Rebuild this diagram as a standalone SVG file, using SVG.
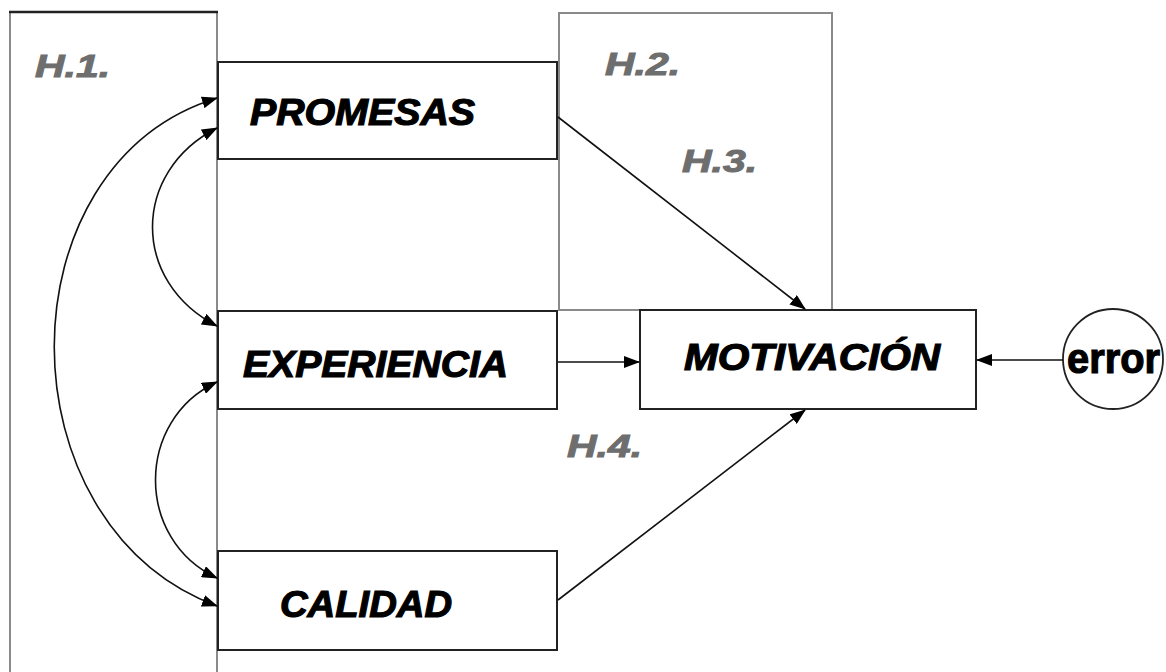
<svg xmlns="http://www.w3.org/2000/svg" width="1166" height="672" viewBox="0 0 1166 672">
<defs>
<marker id="ah" viewBox="0 0 16 12" refX="15" refY="6" markerWidth="16" markerHeight="12" markerUnits="userSpaceOnUse" orient="auto-start-reverse">
<path d="M0,0 L16,6 L0,12 Z" fill="#000"/>
</marker>
<style>
.frame{fill:none;stroke:#8a8a8a;stroke-width:2}
.box{fill:#fff;stroke:#222;stroke-width:2}
.lbl{font-family:"Liberation Sans",Arial,sans-serif;font-weight:bold;font-style:italic;fill:#000;stroke:#000;stroke-width:1.2;font-size:37px}
.hyp{font-family:"Liberation Sans",Arial,sans-serif;font-weight:bold;font-style:italic;fill:#6e6e6e;stroke:#6e6e6e;stroke-width:1;font-size:31px}
.conn{fill:none;stroke:#111;stroke-width:1.6;marker-end:url(#ah)}
.dbl{marker-start:url(#ah)}
</style>
</defs>
<rect width="1166" height="672" fill="#fff"/>
<g id="h1">
<rect class="frame" x="10" y="12" width="207" height="672"/>
<line x1="9" y1="12" x2="218" y2="12" stroke="#222" stroke-width="2.5"/>
<text class="hyp" x="35" y="77" textLength="75" lengthAdjust="spacingAndGlyphs">H.1.</text>
</g>
<g id="h2">
<rect class="frame" x="559" y="13" width="273" height="297"/>
<text class="hyp" x="605" y="75" textLength="75" lengthAdjust="spacingAndGlyphs">H.2.</text>
</g>
<g id="h3"><text class="hyp" x="682" y="172" textLength="75" lengthAdjust="spacingAndGlyphs">H.3.</text></g>
<g id="h4"><text class="hyp" x="567" y="457" textLength="75" lengthAdjust="spacingAndGlyphs">H.4.</text></g>
<g id="promesas">
<rect class="box" x="218" y="62" width="339" height="97"/>
<text class="lbl" x="250" y="125" textLength="225" lengthAdjust="spacingAndGlyphs">PROMESAS</text>
</g>
<g id="experiencia">
<rect class="box" x="218" y="311" width="339" height="98"/>
<text class="lbl" x="243" y="377" textLength="265" lengthAdjust="spacingAndGlyphs">EXPERIENCIA</text>
</g>
<g id="calidad">
<rect class="box" x="218" y="551" width="339" height="99"/>
<text class="lbl" x="280" y="617" textLength="172" lengthAdjust="spacingAndGlyphs">CALIDAD</text>
</g>
<g id="motivacion">
<rect class="box" x="640" y="310" width="336" height="99"/>
<text class="lbl" x="684" y="370" textLength="256" lengthAdjust="spacingAndGlyphs">MOTIVACIÓN</text>
</g>
<g id="error">
<circle cx="1113" cy="359" r="50" fill="#fff" stroke="#222" stroke-width="1.8"/>
<text x="1067" y="373" font-family="Liberation Sans,Arial,sans-serif" font-weight="bold" font-size="42" stroke="#000" stroke-width="1.2" textLength="93" lengthAdjust="spacingAndGlyphs">error</text>
</g>
<g id="connectors">
<path class="conn dbl" d="M217,98 C0,165 0,525 217,606"/>
<path class="conn dbl" d="M217,128 C131,172 131,282 217,326"/>
<path class="conn dbl" d="M217,382 C135,420 135,540 217,578"/>
<path class="conn" d="M558,117 L805,309"/>
<path class="conn" d="M558,362 L639,362"/>
<path class="conn" d="M558,600 L805,410"/>
<path class="conn" d="M1063,360 L977,360"/>
</g>
</svg>
